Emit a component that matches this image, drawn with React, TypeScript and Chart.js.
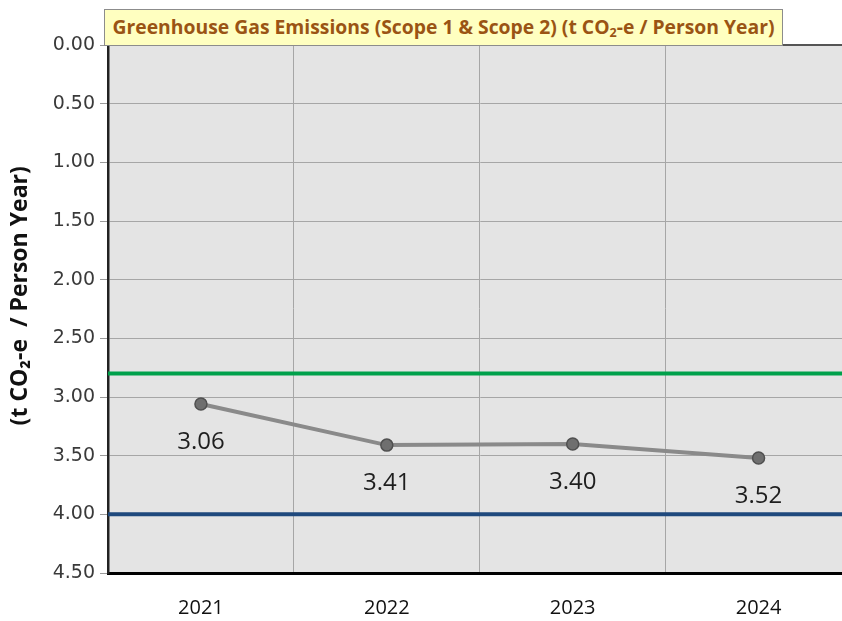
import React, { useEffect, useRef } from 'react';
import { Chart, registerables } from 'chart.js';

Chart.register(...registerables);

const categories = ['2021', '2022', '2023', '2024'];
const emissions = [3.06, 3.41, 3.4, 3.52];
const referenceLevels = [2.8, 4.0];
const referenceColors = ['#00a14b', '#1f497d'];
const yMin = 0;
const yMax = 4.5;
const yStep = 0.5;
const yAxisTitle = '(t CO\u2082-e  / Person Year)';

const backgroundPlugin = {
  id: 'plotBg',
  beforeDraw(chart: any) {
    const { ctx, chartArea } = chart;
    ctx.save();
    ctx.fillStyle = '#e4e4e4';
    ctx.fillRect(chartArea.left, chartArea.top, chartArea.right - chartArea.left, chartArea.bottom - chartArea.top);
    ctx.restore();
  },
};

const referencePlugin = {
  id: 'refLines',
  beforeDatasetsDraw(chart: any) {
    const { ctx, chartArea, scales } = chart;
    ctx.save();
    referenceLevels.forEach((v, i) => {
      const y = scales.y.getPixelForValue(v);
      ctx.strokeStyle = referenceColors[i];
      ctx.lineWidth = 4;
      ctx.beginPath();
      ctx.moveTo(chartArea.left, y);
      ctx.lineTo(chartArea.right, y);
      ctx.stroke();
    });
    ctx.restore();
  },
  afterDraw(chart: any) {
    const { ctx, chartArea } = chart;
    ctx.save();
    ctx.strokeStyle = '#555555';
    ctx.lineWidth = 2;
    ctx.beginPath();
    ctx.moveTo(chartArea.left, chartArea.top);
    ctx.lineTo(chartArea.right, chartArea.top);
    ctx.stroke();
    // y axis title
    ctx.translate(20, chartArea.top + (chartArea.bottom - chartArea.top) * 0.475);
    ctx.rotate(-Math.PI / 2);
    ctx.fillStyle = '#111111';
    ctx.font = 'bold 23px "Open Sans"';
    ctx.textAlign = 'center';
    ctx.textBaseline = 'middle';
    ctx.fillText(yAxisTitle, 0, 0);
    ctx.restore();
  },
};

const labelPlugin = {
  id: 'valueLabels',
  afterDatasetsDraw(chart: any) {
    const { ctx } = chart;
    const meta = chart.getDatasetMeta(0);
    ctx.save();
    ctx.fillStyle = '#1e1e1e';
    ctx.font = '24px "Open Sans"';
    ctx.textAlign = 'center';
    ctx.textBaseline = 'middle';
    meta.data.forEach((pt: any, i: number) => {
      ctx.fillText(emissions[i].toFixed(2), pt.x, pt.y + 38);
    });
    ctx.restore();
  },
};

export default function App() {
  const canvasRef = useRef<HTMLCanvasElement>(null);
  const titleRef = useRef<HTMLSpanElement>(null);

  useEffect(() => {
    const span = titleRef.current;
    if (span) {
      const w = span.getBoundingClientRect().width;
      if (w > 0) span.style.transform = `scaleX(${662 / w})`;
    }
    const chart = new Chart(canvasRef.current as HTMLCanvasElement, {
      type: 'line',
      data: {
        labels: categories,
        datasets: [
          {
            data: emissions,
            borderColor: '#8a8a8a',
            borderWidth: 4,
            pointRadius: 6,
            pointBackgroundColor: '#6f6f6f',
            pointBorderColor: '#505050',
            pointBorderWidth: 1.5,
            tension: 0,
          },
        ],
      },
      options: {
        animation: false,
        responsive: true,
        maintainAspectRatio: false,
        layout: { padding: { top: 45, left: 0, right: 0, bottom: 0 } },
        plugins: { legend: { display: false }, tooltip: { enabled: false }, title: { display: false } },
        scales: {
          x: {
            type: 'category',
            offset: true,
            grid: { offset: true, color: '#a6a6a6', lineWidth: 1, drawTicks: false },
            border: { display: true, color: '#000000', width: 3 },
            ticks: { font: { family: '"Open Sans"', size: 20 }, color: '#111111', padding: 23 },
            afterFit: (s: any) => {
              s.height = 48;
            },
          },
          y: {
            reverse: true,
            min: yMin,
            max: yMax,
            ticks: {
              stepSize: yStep,
              font: { family: '"DejaVu Sans"', size: 19 },
              color: '#3a3a3a',
              padding: 5,
              callback: (v: any) => Number(v).toFixed(2),
            },
            grid: { color: '#a6a6a6', lineWidth: 1, tickLength: 8, tickColor: '#9a9a9a' },
            border: { display: true, color: '#222222', width: 2.5 },
            title: { display: false },
            afterFit: (s: any) => {
              s.width = 108;
            },
          },
        },
      },
      plugins: [backgroundPlugin, referencePlugin, labelPlugin],
    } as any);
    return () => chart.destroy();
  }, []);

  return (
    <div style={{ position: 'fixed', left: 0, top: 0, width: 842, height: 621, overflow: 'hidden', background: '#ffffff' }}>
      <div style={{ position: 'absolute', left: 0, top: 0, width: 859, height: 621 }}>
        <canvas ref={canvasRef} />
      </div>
      <div
        style={{
          position: 'absolute',
          left: 104,
          top: 9,
          width: 677,
          height: 35,
          background: '#ffffc0',
          border: '1px solid #8c8c8c',
          boxSizing: 'content-box',
          display: 'flex',
          alignItems: 'center',
          justifyContent: 'center',
          overflow: 'visible',
          zIndex: 2,
        }}
      >
        <span
          ref={titleRef}
          style={{
            display: 'inline-block',
            whiteSpace: 'nowrap',
            fontFamily: '"Open Sans", sans-serif',
            fontWeight: 'bold',
            fontSize: 20,
            color: '#9a5414',
            transformOrigin: 'center center',
          }}
        >
          Greenhouse Gas Emissions (Scope 1 &amp; Scope 2) (t CO<sub style={{ fontSize: '0.65em', verticalAlign: '-0.25em' }}>2</sub>-e / Person Year)
        </span>
      </div>
    </div>
  );
}
